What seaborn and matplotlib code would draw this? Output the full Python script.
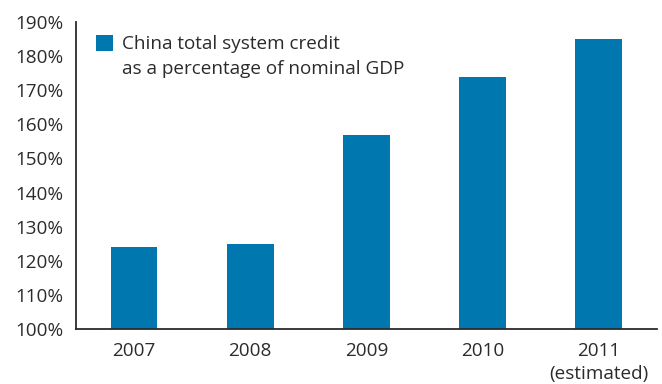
import matplotlib
matplotlib.use("Agg")
import matplotlib.pyplot as plt
import seaborn as sns
import pandas as pd
from matplotlib.ticker import FixedLocator, PercentFormatter

years = ["2007", "2008", "2009", "2010", "2011\n(estimated)"]
credit_pct = [124, 125, 157, 174, 185]
series_label = "China total system credit\nas a percentage of nominal GDP"
y_ticks = list(range(100, 191, 10))

BAR = "#0077AE"
INK = "#2b2b2b"
FS = 13.6

sns.set_theme(style="white")
plt.rcParams["font.family"] = ["Open Sans", "DejaVu Sans"]

df = pd.DataFrame({"year": years, "pct": credit_pct})

fig = plt.figure(figsize=(6.62, 3.84), dpi=100)
ax = fig.add_axes([0.115, 0.143, 0.877, 0.80])

sns.barplot(data=df, x="year", y="pct", color=BAR, width=0.4,
            saturation=1, label=series_label, ax=ax, edgecolor="none")

ax.set_ylim(100, 190)
ax.set_xlim(-0.5, len(years) - 0.5)
ax.set_yticks(y_ticks)
ax.yaxis.set_major_formatter(PercentFormatter(decimals=0))
ax.set_xlabel("")
ax.set_ylabel("")

ax.xaxis.set_minor_locator(FixedLocator([i + 0.5 for i in range(len(years))]))
ax.tick_params(axis="x", which="major", length=0, pad=9, labelsize=FS, colors=INK)
ax.tick_params(axis="x", which="minor", direction="in", length=6, width=1.3, color=INK)
ax.tick_params(axis="y", which="major", direction="in", length=6.5, width=1.3,
               pad=9, labelsize=FS, colors=INK)
for lbl in ax.get_xticklabels():
    lbl.set_linespacing(1.38)
    lbl.set_verticalalignment("top")

for side in ["top", "right"]:
    ax.spines[side].set_visible(False)
for side in ["left", "bottom"]:
    ax.spines[side].set_color(INK)
    ax.spines[side].set_linewidth(1.3)

leg = ax.legend(loc="upper left", bbox_to_anchor=(0.012, 1.0), frameon=False,
                handlelength=0.88, handleheight=0.88, handletextpad=0.5,
                fontsize=FS, borderaxespad=0.3)
for t in leg.get_texts():
    t.set_color(INK)
    t.set_linespacing(1.5)
# keep the swatch level with the first line of the label
for col in leg._legend_handle_box.get_children():
    for row in col.get_children():
        row.align = "top"

fig.savefig("out.png", dpi=100)
